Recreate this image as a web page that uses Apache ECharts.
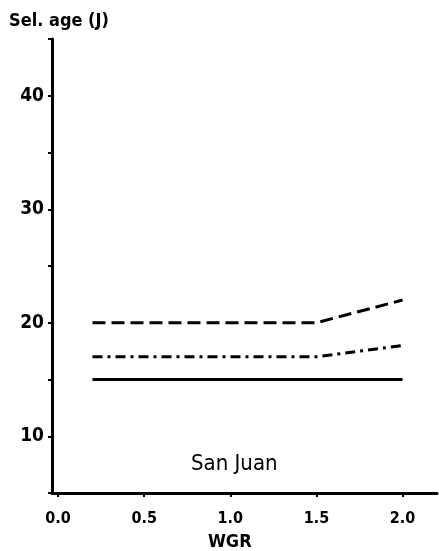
<!DOCTYPE html>
<html>
<head>
<meta charset="utf-8">
<script src="https://cdn.jsdelivr.net/npm/echarts@6/dist/echarts.min.js"></script>
<style>html,body{margin:0;padding:0;background:#fff;}#c{width:439px;height:551px;}</style>
</head>
<body>
<div id="c"></div>
<script>
const wgr = [0.2, 1.5, 2.0];
const selAgeSolid = [15, 15, 15];
const selAgeDashDot = [17, 17, 18];
const selAgeDashed = [20, 20, 22];
const xTicks = [0, 0.5, 1.0, 1.5, 2.0];
const yLabels = [10, 20, 30, 40];
const yTicks = [5, 10, 15, 20, 25, 30, 35, 40, 45];
const yTitle = 'Sel. age (J)';
const xTitle = 'WGR';
const panelLabel = 'San Juan';

const FONT = 'DejaVu Sans Condensed';
const chart = echarts.init(document.getElementById('c'), null, {renderer: 'canvas'});
function pairs(ys){ return wgr.map((x,i)=>[x, ys[i]]); }
const lw = 3;
chart.setOption({
  animation: false,
  backgroundColor: '#fff',
  grid: {left: 52, right: 2, top: 39, bottom: 58},
  xAxis: {
    type: 'value', min: -0.035, max: 2.2,
    axisLine: {show: true, onZero: false, lineStyle: {color: '#000', width: 3}},
    axisTick: {show: true, customValues: xTicks, length: 4, lineStyle: {color: '#000', width: 2}},
    axisLabel: {show: true, customValues: xTicks, margin: 18, color: '#000', fontFamily: FONT, fontSize: 16, fontWeight: 'bold',
      formatter: v => v.toFixed(1)},
    splitLine: {show: false}
  },
  yAxis: {
    type: 'value', min: 5, max: 45,
    axisLine: {show: true, onZero: false, lineStyle: {color: '#000', width: 3}},
    axisTick: {show: true, customValues: yTicks, length: 4, lineStyle: {color: '#000', width: 2}},
    axisLabel: {show: true, customValues: yLabels, margin: 8, color: '#000', fontFamily: FONT, fontSize: 19, fontWeight: 'bold'},
    splitLine: {show: false}
  },
  series: [
    {type: 'line', data: pairs(selAgeSolid), symbol: 'none', lineStyle: {color: '#000', width: lw, type: 'solid'}},
    {type: 'line', data: pairs(selAgeDashDot), symbol: 'none', lineStyle: {color: '#000', width: lw, type: [10, 5, 3, 5]}},
    {type: 'line', data: pairs(selAgeDashed), symbol: 'none', lineStyle: {color: '#000', width: lw, type: [13, 6]}}
  ],
  graphic: [
    {type: 'text', left: 9, top: 12, style: {text: yTitle, fill: '#000', font: 'bold 18px "DejaVu Sans Condensed"'}},
    {type: 'text', left: 208, top: 533, style: {text: xTitle, fill: '#000', font: 'bold 18px "DejaVu Sans Condensed"'}},
    {type: 'text', left: 191, top: 453, style: {text: panelLabel, fill: '#000', font: '22px "DejaVu Sans Condensed"'}}
  ]
});
</script>
</body>
</html>
